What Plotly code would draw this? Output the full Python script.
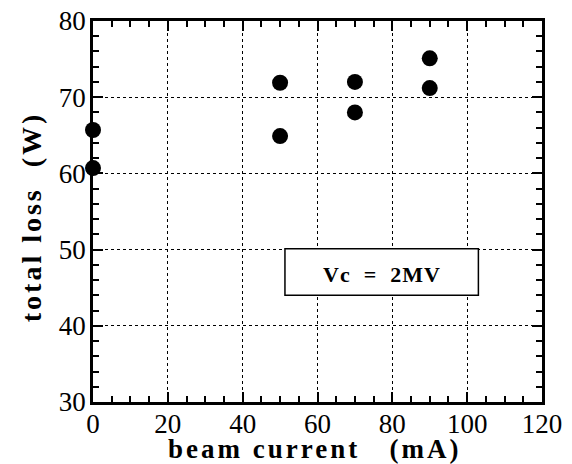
import plotly.graph_objects as go

beam_current = [0, 0, 50, 50, 70, 70, 90, 90]
total_loss = [65.7, 60.7, 71.9, 64.9, 72.0, 68.0, 75.1, 71.2]
x_ticks = [0, 20, 40, 60, 80, 100, 120]
y_ticks = [30, 40, 50, 60, 70, 80]
x_title = "beam current\u00a0\u00a0\u00a0(mA)"
y_title = "total\u00a0loss\u00a0\u00a0(W)"
label_text = "Vc\u00a0\u00a0=\u00a0\u00a02MV"

serif = "Liberation Serif"

fig = go.Figure()
fig.add_trace(go.Scatter(
    x=beam_current, y=total_loss, mode="markers",
    marker=dict(color="black", size=16),
    cliponaxis=False, showlegend=False,
))

axis_common = dict(
    showline=True, linecolor="black", linewidth=2.5, mirror="allticks",
    ticks="inside", ticklen=10, tickwidth=1.5, tickcolor="black",
    showgrid=True, gridcolor="black", griddash="dot", gridwidth=1,
    zeroline=False, automargin=False,
    tickfont=dict(family=serif, size=27, color="black"),
)

fig.update_xaxes(
    range=[0, 120], tickvals=x_ticks,
    minor=dict(dtick=5, ticks="inside", ticklen=6, tickcolor="black", showgrid=False),
    ticklabelstandoff=-4,
    **axis_common,
)
fig.update_yaxes(
    range=[30, 80], tickvals=y_ticks,
    minor=dict(dtick=2, ticks="inside", ticklen=6, tickcolor="black", showgrid=False),
    ticklabelstandoff=-1,
    **axis_common,
)

fig.add_annotation(xref="paper", yref="paper", x=0.494, y=-0.1234,
                   xanchor="center", yanchor="middle", showarrow=False,
                   text='<b><span style="letter-spacing:3px">' + x_title + '</span></b>',
                   font=dict(family=serif, size=27, color="black"))
fig.add_annotation(xref="paper", yref="paper", x=-0.138, y=0.485,
                   xanchor="center", yanchor="middle", showarrow=False, textangle=-90,
                   text='<b><span style="letter-spacing:3px">' + y_title + '</span></b>',
                   font=dict(family=serif, size=28, color="black"))

fig.add_shape(type="rect", x0=51.3, x1=103.0, y0=44.0, y1=50.1,
              line=dict(color="black", width=1.5), fillcolor="white", layer="above")
fig.add_annotation(x=77.15, y=46.7, text='<b><span style="letter-spacing:1px">' + label_text + "</span></b>",
                   showarrow=False, font=dict(family=serif, size=22, color="black"))

fig.update_layout(
    width=572, height=464,
    margin=dict(l=93, r=30, t=21, b=62),
    paper_bgcolor="white", plot_bgcolor="white",
)

fig.write_html("out.html", config={"displayModeBar": False},
               post_script="document.body.style.margin='0';")
